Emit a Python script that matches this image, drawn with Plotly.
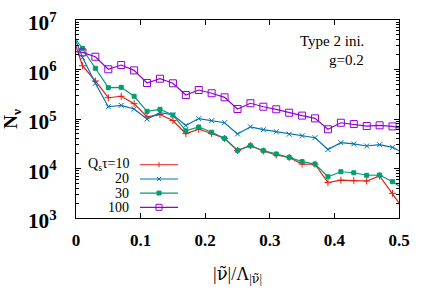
import plotly.graph_objects as go

# bin centres (first and last bins lie just outside the plotted range)
x_vals = [-0.01, 0.01, 0.03, 0.05, 0.07, 0.09, 0.11, 0.13, 0.15, 0.17, 0.19,
          0.21, 0.23, 0.25, 0.27, 0.29, 0.31, 0.33, 0.35, 0.37, 0.39, 0.41,
          0.43, 0.45, 0.47, 0.49, 0.51]

n_tau10 = [7.5e6, 1.19e6, 5.86e5, 2.69e5, 2.88e5, 2.04e5, 1.11e5, 1.23e5, 9.3e4,
           5.05e4, 6.2e4, 5.1e4, 4.04e4, 2.31e4, 2.89e4, 2.26e4, 1.87e4, 1.67e4,
           1.23e4, 1.22e4, 5.2e3, 5.8e3, 5.67e3, 5.59e3, 7.05e3, 3.15e3, 1.32e3]
n_tau20 = [8.0e6, 1.76e6, 5.26e5, 1.77e5, 1.89e5, 1.59e5, 1.0e5, 1.34e5, 1.22e5,
           7.39e4, 1.02e5, 9.24e4, 8.42e4, 4.98e4, 6.96e4, 6.08e4, 5.54e4, 4.93e4,
           4.6e4, 4.19e4, 2.42e4, 3.32e4, 3.13e4, 2.85e4, 3.03e4, 2.68e4, 1.96e4]
n_tau30 = [6.4e6, 2.68e6, 1.06e6, 4.29e5, 4.37e5, 2.88e5, 1.43e5, 1.57e5, 1.2e5,
           5.78e4, 6.9e4, 5.4e4, 4.07e4, 2.33e4, 2.89e4, 2.29e4, 1.96e4, 1.68e4,
           1.38e4, 1.23e4, 6.83e3, 8.6e3, 8.2e3, 7.3e3, 7.39e3, 5.41e3, 3.6e3]
n_tau100 = [2.4e6, 2.22e6, 1.81e6, 1.01e6, 1.23e6, 9.6e5, 5.34e5, 6.52e5, 5.26e5,
            3.05e5, 3.85e5, 3.31e5, 2.74e5, 1.59e5, 2.08e5, 1.77e5, 1.57e5, 1.34e5,
            1.17e5, 1.03e5, 6.2e4, 8.4e4, 7.9e4, 7.2e4, 7.46e4, 7.1e4, 6.1e4]

series_labels = ["Q<sub>s</sub>τ=10", "20", "30", "100"]
series_values = [n_tau10, n_tau20, n_tau30, n_tau100]
colors = ["#e51e10", "#0072b2", "#009e73", "#9400d3"]
symbols = ["cross-thin", "x-thin", "square", "square-open"]
sizes = [5, 5, 4, 7]

x_ticks = [0, 0.1, 0.2, 0.3, 0.4, 0.5]
x_ticktext = ["0", "0.1", "0.2", "0.3", "0.4", "0.5"]

FONT = "Liberation Serif"
NU = '<span style="font-family:DejaVu Serif">ν̃</span>'

fig = go.Figure()
for lab, vals, col, sym, sz in zip(series_labels, series_values, colors, symbols, sizes):
    fig.add_trace(go.Scatter(
        x=x_vals, y=vals, mode="lines+markers", name=lab, showlegend=False,
        line=dict(color=col, width=1.2),
        marker=dict(symbol=sym, size=sz, color=col, line=dict(color=col, width=1)),
    ))

# custom gnuplot-style key: text right-aligned, sample to the right
key_rows = [0.269, 0.197, 0.126, 0.054]
shapes = []
annotations = []
for lab, col, sym, yk in zip(series_labels, colors, symbols, key_rows):
    annotations.append(dict(x=0.170, y=yk, xref="paper", yref="paper", text=lab,
                            showarrow=False, xanchor="right", yanchor="middle",
                            font=dict(family=FONT, size=14, color="black")))
    shapes.append(dict(type="line", xref="paper", yref="paper", x0=0.198, x1=0.316,
                       y0=yk, y1=yk, line=dict(color=col, width=1.2)))
    base = dict(xref="paper", yref="paper", xsizemode="pixel", ysizemode="pixel",
                xanchor=0.257, yanchor=yk)
    if sym == "cross-thin":
        shapes.append(dict(type="line", x0=0, x1=0, y0=-2.5, y1=2.5, line=dict(color=col, width=1), **base))
    elif sym == "x-thin":
        shapes.append(dict(type="line", x0=-2, x1=2, y0=-2, y1=2, line=dict(color=col, width=1), **base))
        shapes.append(dict(type="line", x0=-2, x1=2, y0=2, y1=-2, line=dict(color=col, width=1), **base))
    elif sym == "square":
        shapes.append(dict(type="rect", x0=-2, x1=2, y0=-2, y1=2, fillcolor=col,
                           line=dict(color=col, width=1), **base))
    else:
        shapes.append(dict(type="rect", x0=-3, x1=3, y0=-3, y1=3,
                           line=dict(color=col, width=1), **base))

annotations.append(dict(x=0.898, y=0.894, xref="paper", yref="paper", text="Type 2 ini.",
                        showarrow=False, xanchor="right", yanchor="middle",
                        font=dict(family=FONT, size=15, color="black")))
annotations.append(dict(x=0.898, y=0.798, xref="paper", yref="paper", text="g=0.2",
                        showarrow=False, xanchor="right", yanchor="middle",
                        font=dict(family=FONT, size=15, color="black")))

fig.update_layout(
    width=436, height=305,
    margin=dict(l=76, r=37, t=20, b=87),
    paper_bgcolor="white", plot_bgcolor="white",
    shapes=shapes, annotations=annotations,
    showlegend=False,
)
fig.update_xaxes(
    range=[0, 0.5], tickvals=x_ticks, ticktext=x_ticktext, automargin=False,
    showgrid=False, zeroline=False, showline=True, linecolor="black", linewidth=1,
    mirror="allticks", ticks="inside", ticklen=5, tickcolor="black",
    tickfont=dict(family=FONT, size=17, color="black", weight="bold"),
    ticklabelstandoff=7, ticklabeloverflow="allow",
    title=dict(text="|" + NU + "|/Λ<sub>|" + NU + "|</sub>",
               font=dict(family=FONT, size=18, color="black"), standoff=17),
)
fig.update_yaxes(
    type="log", range=[3, 7], dtick=1, exponentformat="power", automargin=False,
    showgrid=False, zeroline=False, showline=True, linecolor="black", linewidth=1,
    mirror="allticks", ticks="inside", ticklen=5, tickcolor="black",
    minor=dict(ticks="inside", ticklen=3, tickcolor="black", showgrid=False),
    tickfont=dict(family=FONT, size=17, color="black", weight="bold"),
    ticklabelstandoff=15, ticklabelshift=3, ticklabeloverflow="allow",
    title=dict(text="N<sub>ν</sub>", font=dict(family=FONT, size=19, color="black", weight="bold"),
               standoff=6),
)

# remove the default page margin so the 436x305 figure fills the window exactly
fig.write_html("out.html", config={"displayModeBar": False},
               post_script="document.body.style.margin='0';")
